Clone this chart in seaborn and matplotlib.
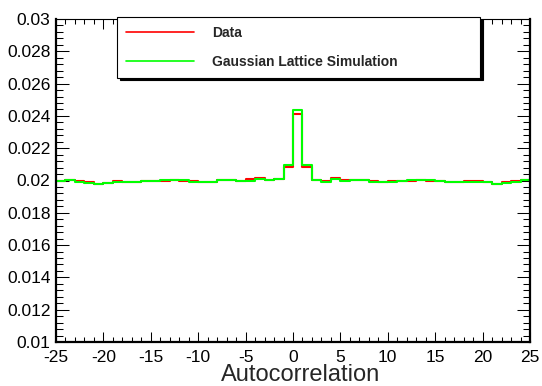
import numpy as np
import pandas as pd
import matplotlib
matplotlib.use("Agg")
import matplotlib.pyplot as plt
import seaborn as sns
from matplotlib.lines import Line2D
from matplotlib.ticker import MultipleLocator, FormatStrFormatter

# bin edges -25..25, width 1
bin_edges = list(range(-25, 26))
bin_centers = [e + 0.5 for e in bin_edges[:-1]]

data_vals = [
    0.02000, 0.02006, 0.01994, 0.01990, 0.01981, 0.01986, 0.01996, 0.01990, 0.01990, 0.02000,
    0.02000, 0.01996, 0.02006, 0.01998, 0.01996, 0.01990, 0.01990, 0.02000, 0.02000, 0.01996,
    0.02010, 0.02017, 0.02000, 0.02010, 0.02081, 0.02409, 0.02081, 0.02006, 0.01996, 0.02017,
    0.02006, 0.02000, 0.02000, 0.01996, 0.01990, 0.01996, 0.01996, 0.01996, 0.02000, 0.01996,
    0.01996, 0.01992, 0.01992, 0.01996, 0.01996, 0.01990, 0.01981, 0.01990, 0.01996, 0.02002,
]
sim_vals = [
    0.01996, 0.02006, 0.01992, 0.01986, 0.01979, 0.01986, 0.01990, 0.01990, 0.01990, 0.01996,
    0.02000, 0.02006, 0.02006, 0.02006, 0.01992, 0.01990, 0.01990, 0.02000, 0.02000, 0.01996,
    0.01996, 0.02012, 0.02000, 0.02010, 0.02099, 0.02436, 0.02099, 0.02000, 0.01992, 0.02010,
    0.01996, 0.02000, 0.02002, 0.01992, 0.01990, 0.01992, 0.01996, 0.02006, 0.02002, 0.02000,
    0.01996, 0.01990, 0.01990, 0.01990, 0.01990, 0.01990, 0.01979, 0.01986, 0.01992, 0.02002,
]
labels = ["Data", "Gaussian Lattice Simulation"]

df = pd.DataFrame({"x": bin_centers, "data": data_vals, "sim": sim_vals})

sns.set_style("ticks")
plt.rcParams["font.family"] = ["Liberation Sans", "DejaVu Sans"]
plt.rcParams["axes.unicode_minus"] = False

fig = plt.figure(figsize=(5.42, 3.86), dpi=100)
ax = fig.add_axes([56 / 542, 1 - 342 / 386, (530 - 56) / 542, (342 - 19) / 386])

sns.histplot(data=df, x="x", weights="data", bins=bin_edges, element="step",
             fill=False, color="#ff0000", linewidth=1.5, ax=ax)
sns.histplot(data=df, x="x", weights="sim", bins=bin_edges, element="step",
             fill=False, color="#00ff00", linewidth=1.5, ax=ax)

ax.set_xlim(-25, 25)
ax.set_ylim(0.01, 0.03)
ax.set_ylabel("")
ax.set_xlabel("Autocorrelation", fontsize=17)
ax.xaxis.set_label_coords(0.517, -0.068)

ax.xaxis.set_major_locator(MultipleLocator(5))
ax.xaxis.set_minor_locator(MultipleLocator(1))
ax.yaxis.set_major_locator(MultipleLocator(0.002))
ax.yaxis.set_minor_locator(MultipleLocator(0.0004))
ax.yaxis.set_major_formatter(FormatStrFormatter("%g"))

ax.tick_params(which="both", direction="in", top=True, right=True,
               labelsize=12.5, width=0.75, colors="black")
ax.tick_params(axis="x", which="major", length=7, pad=6)
ax.tick_params(axis="x", which="minor", length=3.5)
ax.tick_params(axis="y", which="major", length=9.5, pad=4)
ax.tick_params(axis="y", which="minor", length=4.7)

for side in ["left", "bottom", "right"]:
    ax.spines[side].set_linewidth(1.6)
ax.spines["top"].set_linewidth(0.8)
for sp in ax.spines.values():
    sp.set_color("black")

handles = [Line2D([], [], color="#ff0000", lw=1.2),
           Line2D([], [], color="#00ff00", lw=1.2)]
leg = ax.legend(handles, labels, loc="upper left",
                bbox_to_anchor=(117.3 / 542, 1 - 76.7 / 386, (480 - 117.3) / 542, 59.4 / 386),
                bbox_transform=fig.transFigure, mode="expand", borderaxespad=0,
                prop={"weight": "bold", "size": 10}, fancybox=False,
                shadow={"facecolor": "black", "edgecolor": "black", "alpha": 1},
                framealpha=1, edgecolor="black", borderpad=0.6, labelspacing=1.12,
                handlelength=4.9, handletextpad=1.3)
leg.get_frame().set_linewidth(0.8)
leg.set_zorder(10)

fig.savefig("out.png", dpi=100)
